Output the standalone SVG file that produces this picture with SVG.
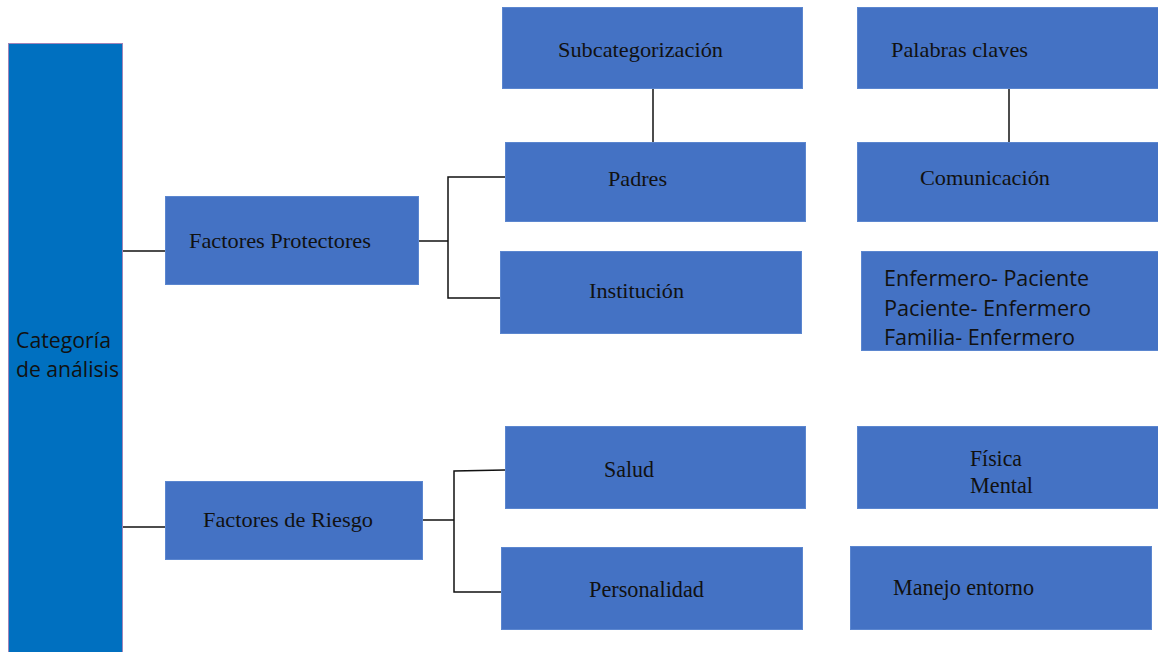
<svg xmlns="http://www.w3.org/2000/svg" width="1158" height="652" viewBox="0 0 1158 652">
<style>
  .box { fill: #4472C4; stroke: #5B86CF; stroke-width: 1; }
  .bar { fill: #0070C0; stroke: #A184B8; stroke-width: 1; }
  .t { font-family: "Liberation Serif", "Times New Roman", serif; font-size: 22px; fill: #111; }
  .tc { font-family: "Liberation Serif", "Times New Roman", serif; font-size: 23px; fill: #111; }
  .s { font-family: "Open Sans", "Liberation Sans", sans-serif; fill: #111; }
  .c { fill: none; stroke: #111; stroke-width: 1.5; }
</style>
<rect width="1158" height="652" fill="#ffffff"/>
<g id="connectors">
  <path class="c" d="M123 251 H165"/>
  <path class="c" d="M419 241 H448"/>
  <path class="c" d="M505 177 H448 V298 H500"/>
  <path class="c" d="M653 89 V142"/>
  <path class="c" d="M1009 89 V142"/>
  <path class="c" d="M123 527 H165"/>
  <path class="c" d="M423 520 H454"/>
  <path class="c" d="M505 470 L454 471 V592 H502"/>
</g>
<g id="categoria">
  <rect class="bar" x="8.5" y="43.5" width="114" height="620"/>
  <text class="s" font-size="22" x="16" y="348" textLength="95" lengthAdjust="spacingAndGlyphs">Categoría</text>
  <text class="s" font-size="22" x="16" y="377" textLength="103" lengthAdjust="spacingAndGlyphs">de análisis</text>
</g>
<g id="factores-protectores">
  <rect class="box" x="165.5" y="196.5" width="253" height="88"/>
  <text class="t" x="189" y="248" textLength="182" lengthAdjust="spacingAndGlyphs">Factores Protectores</text>
</g>
<g id="subcategorizacion">
  <rect class="box" x="502.5" y="7.5" width="300" height="81"/>
  <text class="t" x="558" y="57" textLength="165" lengthAdjust="spacingAndGlyphs">Subcategorización</text>
</g>
<g id="palabras-claves">
  <rect class="box" x="857.5" y="7.5" width="305" height="81"/>
  <text class="t" x="891" y="57" textLength="137" lengthAdjust="spacingAndGlyphs">Palabras claves</text>
</g>
<g id="padres">
  <rect class="box" x="505.5" y="142.5" width="300" height="79"/>
  <text class="t" x="608" y="186" textLength="59" lengthAdjust="spacingAndGlyphs">Padres</text>
</g>
<g id="comunicacion">
  <rect class="box" x="857.5" y="142.5" width="305" height="79"/>
  <text class="t" x="920" y="185" textLength="130" lengthAdjust="spacingAndGlyphs">Comunicación</text>
</g>
<g id="institucion">
  <rect class="box" x="500.5" y="251.5" width="301" height="82"/>
  <text class="t" x="589" y="298" textLength="95" lengthAdjust="spacingAndGlyphs">Institución</text>
</g>
<g id="relaciones">
  <rect class="box" x="861.5" y="251.5" width="300" height="99"/>
  <text class="s" font-size="21" x="884" y="286" textLength="205" lengthAdjust="spacingAndGlyphs">Enfermero- Paciente</text>
  <text class="s" font-size="21" x="884" y="316" textLength="207" lengthAdjust="spacingAndGlyphs">Paciente- Enfermero</text>
  <text class="s" font-size="21" x="884" y="345" textLength="191" lengthAdjust="spacingAndGlyphs">Familia- Enfermero</text>
</g>
<g id="factores-riesgo">
  <rect class="box" x="165.5" y="481.5" width="257" height="78"/>
  <text class="t" x="203" y="527" textLength="170" lengthAdjust="spacingAndGlyphs">Factores de Riesgo</text>
</g>
<g id="salud">
  <rect class="box" x="505.5" y="426.5" width="300" height="82"/>
  <text class="tc" x="604" y="477" textLength="50" lengthAdjust="spacingAndGlyphs">Salud</text>
</g>
<g id="fisica-mental">
  <rect class="box" x="857.5" y="426.5" width="305" height="82"/>
  <text class="tc" x="970" y="466" textLength="52" lengthAdjust="spacingAndGlyphs">Física</text>
  <text class="tc" x="970" y="493" textLength="63" lengthAdjust="spacingAndGlyphs">Mental</text>
</g>
<g id="personalidad">
  <rect class="box" x="501.5" y="547.5" width="301" height="82"/>
  <text class="tc" x="589" y="597" textLength="115" lengthAdjust="spacingAndGlyphs">Personalidad</text>
</g>
<g id="manejo-entorno">
  <rect class="box" x="850.5" y="546.5" width="301" height="83"/>
  <text class="tc" x="893" y="595" textLength="141" lengthAdjust="spacingAndGlyphs">Manejo entorno</text>
</g>
</svg>
